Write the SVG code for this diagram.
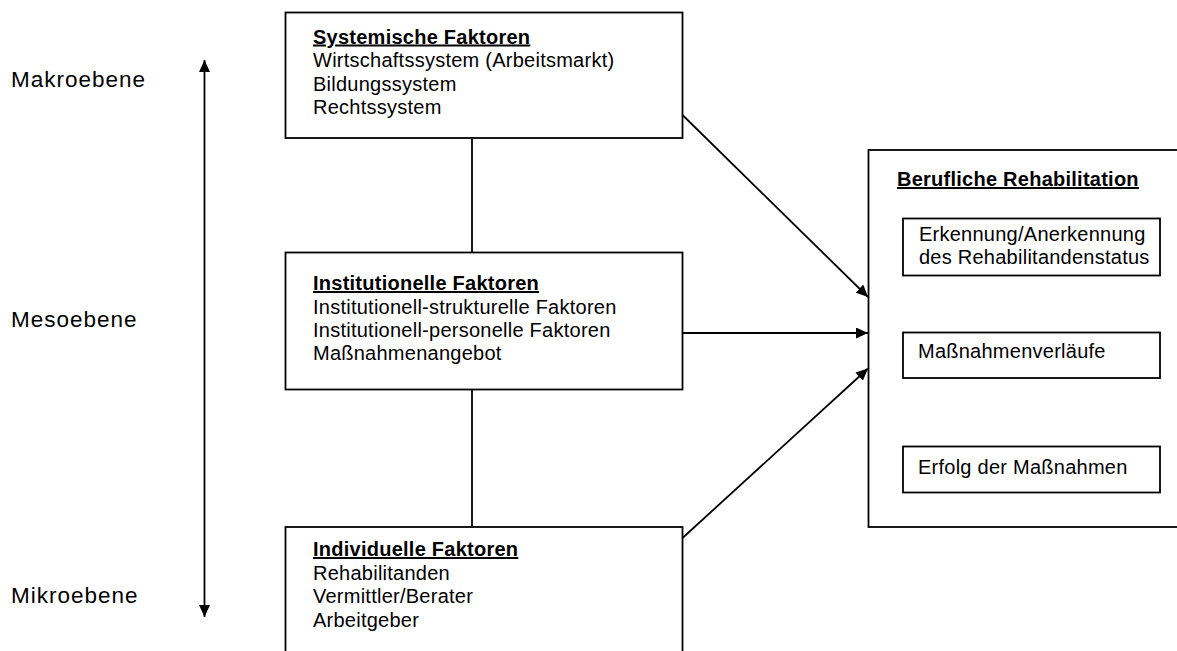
<svg xmlns="http://www.w3.org/2000/svg" width="1177" height="651" viewBox="0 0 1177 651">
<style>
  .box { fill: #ffffff; stroke: #000000; stroke-width: 1.8; }
  .ln { fill: none; stroke: #000000; stroke-width: 1.8; }
  .t { font-family: "Liberation Sans", Arial, sans-serif; font-size: 20px; letter-spacing: 0.25px; fill: #000000; }
  .h { font-weight: bold; text-decoration: underline; }
  .lvl { font-family: "Liberation Sans", Arial, sans-serif; font-size: 22.5px; letter-spacing: 1px; fill: #000000; }
</style>
<defs>
  <marker id="ah" markerUnits="userSpaceOnUse" markerWidth="12" markerHeight="11" refX="12" refY="5.5" orient="auto">
    <path d="M0,0 L12,5.5 L0,11 Z" fill="#000000"/>
  </marker>
  <marker id="ahs" markerUnits="userSpaceOnUse" markerWidth="12" markerHeight="11" refX="0" refY="5.5" orient="auto">
    <path d="M12,0 L0,5.5 L12,11 Z" fill="#000000"/>
  </marker>
</defs>
<rect x="0" y="0" width="1177" height="651" fill="#ffffff"/>

<g id="connectors">
  <line class="ln" x1="204.5" y1="60" x2="204.5" y2="617" marker-start="url(#ahs)" marker-end="url(#ah)"/>
  <line class="ln" x1="472" y1="138" x2="472" y2="252.5"/>
  <line class="ln" x1="472" y1="389.5" x2="472" y2="527"/>
  <line class="ln" x1="682.5" y1="115" x2="868" y2="297" marker-end="url(#ah)"/>
  <line class="ln" x1="682.5" y1="333" x2="868" y2="333" marker-end="url(#ah)"/>
  <line class="ln" x1="682.5" y1="538" x2="868" y2="368.5" marker-end="url(#ah)"/>
  <line class="ln" x1="1009" y1="276" x2="1009" y2="332" marker-end="url(#ah)"/>
  <line class="ln" x1="1009" y1="378" x2="1009" y2="446.5" marker-end="url(#ah)"/>
</g>

<g id="label-makro">
  <text class="lvl" x="11" y="87">Makroebene</text>
</g>
<g id="label-meso">
  <text class="lvl" x="11" y="327">Mesoebene</text>
</g>
<g id="label-mikro">
  <text class="lvl" x="11" y="603">Mikroebene</text>
</g>

<g id="systemische">
  <rect class="box" x="285.5" y="12.5" width="397" height="125.5"/>
  <text class="t h" x="313" y="43.5">Systemische Faktoren</text>
  <text class="t" x="313" y="67">Wirtschaftssystem (Arbeitsmarkt)</text>
  <text class="t" x="313" y="90.5">Bildungssystem</text>
  <text class="t" x="313" y="114">Rechtssystem</text>
</g>

<g id="institutionelle">
  <rect class="box" x="285.5" y="252.5" width="397" height="137"/>
  <text class="t h" x="313" y="290">Institutionelle Faktoren</text>
  <text class="t" x="313" y="313.5">Institutionell-strukturelle Faktoren</text>
  <text class="t" x="313" y="337">Institutionell-personelle Faktoren</text>
  <text class="t" x="313" y="360">Maßnahmenangebot</text>
</g>

<g id="individuelle">
  <rect class="box" x="285.5" y="527" width="397" height="140"/>
  <text class="t h" x="313" y="556">Individuelle Faktoren</text>
  <text class="t" x="313" y="579.5">Rehabilitanden</text>
  <text class="t" x="313" y="603">Vermittler/Berater</text>
  <text class="t" x="313" y="626.5">Arbeitgeber</text>
</g>

<g id="berufliche-rehabilitation">
  <rect class="box" x="868.5" y="150" width="330" height="377"/>
  <text class="t h" x="897" y="186">Berufliche Rehabilitation</text>
</g>

<g id="erkennung">
  <rect class="box" x="903" y="218.5" width="257" height="57"/>
  <text class="t" x="919" y="241">Erkennung/Anerkennung</text>
  <text class="t" x="919" y="264">des Rehabilitandenstatus</text>
</g>

<g id="massnahmenverlaeufe">
  <rect class="box" x="903" y="332.5" width="257" height="45.5"/>
  <text class="t" x="918" y="358">Maßnahmenverläufe</text>
</g>

<g id="erfolg">
  <rect class="box" x="903" y="446.5" width="257" height="46"/>
  <text class="t" x="918" y="474">Erfolg der Maßnahmen</text>
</g>
</svg>
